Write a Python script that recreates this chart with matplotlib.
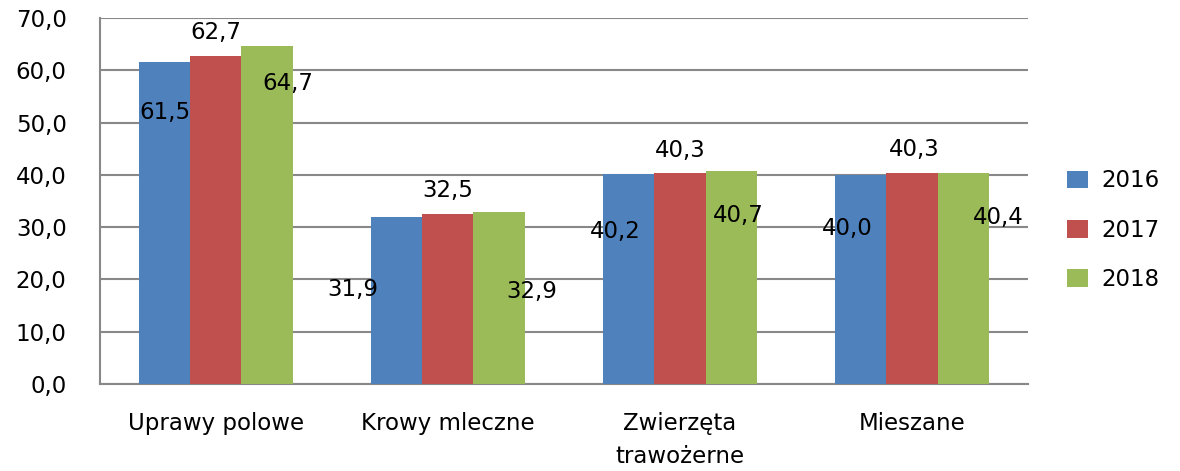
import matplotlib.pyplot as plt
import numpy as np

categories = ["Uprawy polowe", "Krowy mleczne", "Zwierzęta\ntrawożerne", "Mieszane"]
years = ["2016", "2017", "2018"]
v2016 = [61.5, 31.9, 40.2, 40.0]
v2017 = [62.7, 32.5, 40.3, 40.3]
v2018 = [64.7, 32.9, 40.7, 40.4]

colors = ["#4F81BD", "#C0504D", "#9BBB59"]
C_GRID = "#888888"
FS = 16.5

# hand-placed data labels (x offset from group centre, y in data units)
label_pos = [
    [(-0.22, 52.0), (-0.41, 18.0), (-0.28, 29.1), (-0.28, 29.8)],
    [(0.00, 67.3), (0.00, 37.1), (0.00, 44.7), (0.01, 44.9)],
    [(0.31, 57.5), (0.36, 17.6), (0.25, 32.3), (0.37, 31.9)],
]

plt.rcParams["font.family"] = ["DejaVu Sans"]
fig = plt.figure(figsize=(11.8, 4.71), dpi=100)
ax = fig.add_axes([0.0847, 0.1847, 0.7865, 0.7771])

x = np.arange(len(categories))
w = 0.22
series = [v2016, v2017, v2018]
for i, (vals, yr) in enumerate(zip(series, years)):
    ax.bar(x + (i - 1) * w, vals, w, color=colors[i], label=yr, zorder=3)
    for j, v in enumerate(vals):
        dx, ly = label_pos[i][j]
        ax.text(x[j] + dx, ly, f"{v:.1f}".replace(".", ","), ha="center",
                va="center", fontsize=FS, color="black", zorder=4)

ax.set_xlim(-0.5, 3.5)
ax.set_ylim(0, 70)
ax.set_yticks(np.arange(0, 71, 10))
ax.set_yticklabels([f"{t:.1f}".replace(".", ",") for t in np.arange(0, 71, 10)])
ax.set_xticks(x)
ax.set_xticklabels(categories, linespacing=1.55)
ax.tick_params(axis="both", length=0, labelsize=FS)
ax.tick_params(axis="x", pad=20)
ax.tick_params(axis="y", pad=24)

ax.yaxis.grid(True, color=C_GRID, linewidth=1.5, zorder=0)
ax.set_axisbelow(True)
for s in ["top", "right"]:
    ax.spines[s].set_visible(False)
for s in ["left", "bottom"]:
    ax.spines[s].set_color(C_GRID)
    ax.spines[s].set_linewidth(1.5)

ax.legend(loc="center left", bbox_to_anchor=(1.02, 0.42), frameon=False,
          fontsize=FS, handlelength=0.9, handleheight=0.8,
          labelspacing=1.15, handletextpad=0.6)

fig.savefig("out.png", dpi=100)
